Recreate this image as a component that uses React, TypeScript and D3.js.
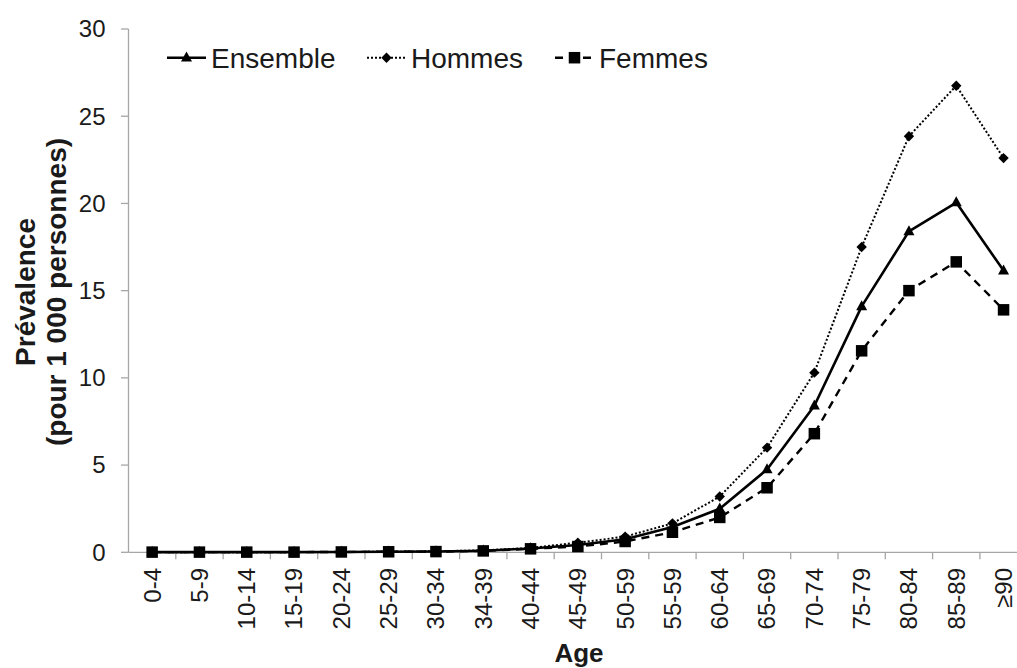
import React from "react";
import * as d3 from "d3";

const categories = ["0-4","5-9","10-14","15-19","20-24","25-29","30-34","34-39","40-44","45-49","50-59","55-59","60-64","65-69","70-74","75-79","80-84","85-89","≥90"];
const ensemble = [0.01,0.01,0.01,0.01,0.02,0.03,0.05,0.09,0.22,0.42,0.75,1.45,2.5,4.75,8.4,14.1,18.4,20.05,16.15];
const hommes = [0.01,0.01,0.01,0.01,0.02,0.03,0.06,0.11,0.25,0.55,0.9,1.66,3.2,6.0,10.3,17.5,23.85,26.75,22.6];
const femmes = [0.01,0.01,0.01,0.01,0.02,0.03,0.04,0.08,0.2,0.33,0.62,1.15,2.0,3.7,6.8,11.55,15.0,16.65,13.9];
const yTicks = [0, 5, 10, 15, 20, 25, 30];
const seriesNames = ["Ensemble", "Hommes", "Femmes"];

const W = 1017, H = 668;
const X0 = 128.5, BAND = 47.3;
const Y0 = 552.3, Y1 = 29;
const AXIS = "#a6a6a6";
const TXT = "#1a1a1a";
const FONT = "'Liberation Sans', Arial, sans-serif";

type Style = { dash: string; width: number; marker: "triangle" | "diamond" | "square" };
const styles: Style[] = [
  { dash: "none", width: 2.6, marker: "triangle" },
  { dash: "2,2", width: 2, marker: "diamond" },
  { dash: "8,6", width: 2.4, marker: "square" },
];

function Marker({ kind, x, y }: { kind: string; x: number; y: number }) {
  if (kind === "triangle") {
    const s = 11;
    const h = 10;
    return <path d={`M${x},${y - h * 0.62}L${x + s / 2},${y + h * 0.38}L${x - s / 2},${y + h * 0.38}Z`} fill="#000" />;
  }
  if (kind === "diamond") {
    const r = 5.2;
    return <path d={`M${x},${y - r}L${x + r},${y}L${x},${y + r}L${x - r},${y}Z`} fill="#000" />;
  }
  const s = 11.5;
  return <rect x={x - s / 2} y={y - s / 2} width={s} height={s} fill="#000" />;
}

export default function App() {
  const x = d3.scaleBand<string>().domain(categories).range([X0, X0 + BAND * categories.length]).padding(0);
  const y = d3.scaleLinear().domain([0, 30]).range([Y0, Y1]);
  const cx = (c: string) => (x(c) as number) + x.bandwidth() / 2;
  const line = d3.line<number>().x((_, i) => cx(categories[i])).y((d) => y(d));
  const data = [ensemble, hommes, femmes];

  const legendX = [167, 367, 555];
  const legendY = 57.7;
  const sampleLen = 39;

  return (
    <svg width={W} height={H} style={{ position: "absolute", left: 0, top: 0, background: "#fff" }} fontFamily={FONT}>
      <rect width={W} height={H} fill="#fff" />
      {/* y axis */}
      <line x1={X0} x2={X0} y1={y(30)} y2={Y0} stroke={AXIS} strokeWidth={1.3} />
      {yTicks.map((t) => (
        <g key={t}>
          <line x1={X0 - 7.5} x2={X0} y1={y(t)} y2={y(t)} stroke={AXIS} strokeWidth={1.3} />
          <text x={105.5} y={y(t)} dy="0.35em" textAnchor="end" fontSize={24} fill={TXT}>{t}</text>
        </g>
      ))}
      {/* x axis */}
      <line x1={X0} x2={X0 + BAND * categories.length} y1={Y0} y2={Y0} stroke={AXIS} strokeWidth={1.3} />
      {categories.map((c) => (
        <g key={c}>
          <line x1={(x(c) as number) + BAND} x2={(x(c) as number) + BAND} y1={Y0} y2={Y0 + 7} stroke={AXIS} strokeWidth={1.3} />
          <text transform={`translate(${cx(c)},${568}) rotate(-90)`} dy="0.35em" textAnchor="end" fontSize={24} fill={TXT}>{c}</text>
        </g>
      ))}
      {/* series */}
      {data.map((vals, si) => (
        <g key={si}>
          <path d={line(vals) as string} fill="none" stroke="#000" strokeWidth={styles[si].width} strokeDasharray={styles[si].dash} strokeLinejoin="round" />
          {vals.map((v, i) => (
            <Marker key={i} kind={styles[si].marker} x={cx(categories[i])} y={y(v)} />
          ))}
        </g>
      ))}
      {/* legend */}
      {seriesNames.map((n, si) => (
        <g key={n}>
          <line x1={legendX[si]} x2={legendX[si] + sampleLen} y1={legendY} y2={legendY} stroke="#000" strokeWidth={styles[si].width} strokeDasharray={styles[si].dash} />
          <Marker kind={styles[si].marker} x={legendX[si] + sampleLen / 2} y={legendY} />
          <text x={legendX[si] + sampleLen + 5} y={legendY + 10.5} fontSize={28} fill={TXT}>{n}</text>
        </g>
      ))}
      {/* titles */}
      <text transform={`translate(35,292) rotate(-90)`} textAnchor="middle" fontSize={28} fontWeight="bold" fill={TXT}>Prévalence</text>
      <text transform={`translate(66,292) rotate(-90)`} textAnchor="middle" fontSize={28} fontWeight="bold" fill={TXT}>(pour 1 000 personnes)</text>
      <text x={579} y={661.5} textAnchor="middle" fontSize={26} fontWeight="bold" fill={TXT}>Age</text>
    </svg>
  );
}
